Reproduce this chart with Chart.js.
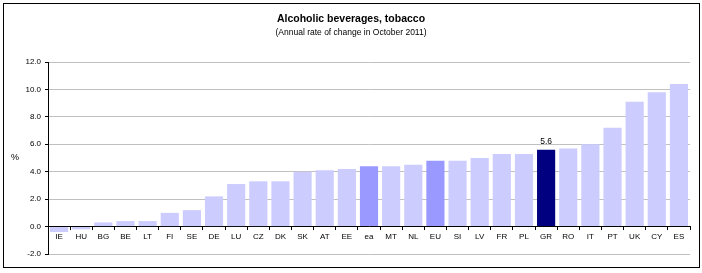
<!DOCTYPE html>
<html>
<head>
<meta charset="utf-8">
<script src="https://cdn.jsdelivr.net/npm/chart.js@4"></script>
<style>
  html, body { margin: 0; padding: 0; background: #fff; }
  #wrap { width: 702px; height: 273px; }
</style>
</head>
<body>
<div id="wrap"><canvas id="myChart" width="702" height="273"></canvas></div>
<script>
const countries = ['IE', 'HU', 'BG', 'BE', 'LT', 'FI', 'SE', 'DE', 'LU', 'CZ', 'DK', 'SK', 'AT', 'EE', 'ea',
  'MT', 'NL', 'EU', 'SI', 'LV', 'FR', 'PL', 'GR', 'RO', 'IT', 'PT', 'UK', 'CY', 'ES'];
const rates = [-0.4, -0.2, 0.3, 0.4, 0.4, 1.0, 1.2, 2.2, 3.1, 3.3, 3.3, 4.0, 4.1, 4.2, 4.4,
  4.4, 4.5, 4.8, 4.8, 5.0, 5.3, 5.3, 5.6, 5.7, 6.0, 7.2, 9.1, 9.8, 10.4];
const yTicks = [-2, 0, 2, 4, 6, 8, 10, 12];

const barColors = countries.map(c => {
  if (c === 'GR') return '#000080';
  if (c === 'ea' || c === 'EU') return '#9999ff';
  return '#ccccff';
});

// frame, titles, "%" and the GR value label
const extras = {
  id: 'extras',
  beforeDraw(chart) {
    const c = chart.ctx;
    c.save();
    c.fillStyle = '#fff';
    c.fillRect(0, 0, chart.width, chart.height);
    c.strokeStyle = '#000';
    c.lineWidth = 1;
    c.strokeRect(3.5, 3.5, 696, 264);
    c.restore();
  },
  afterDraw(chart) {
    const c = chart.ctx;
    c.save();
    c.fillStyle = '#000';
    c.textAlign = 'center';
    c.textBaseline = 'middle';
    c.font = 'bold 10.5px "Liberation Sans", Arial';
    c.fillText('Alcoholic beverages, tobacco', 351, 19);
    c.font = '8.5px "Liberation Sans", Arial';
    c.fillText('(Annual rate of change in October 2011)', 351, 33);
    c.font = '9px "Liberation Sans", Arial';
    c.fillText('%', 15, 158);
    const i = countries.indexOf('GR');
    const bar = chart.getDatasetMeta(0).data[i];
    c.font = '8.5px "Liberation Sans", Arial';
    c.fillText(rates[i].toFixed(1), bar.x, bar.y - 8);
    c.restore();
  }
};

new Chart(document.getElementById('myChart'), {
  type: 'bar',
  data: {
    labels: countries,
    datasets: [{
      data: rates,
      backgroundColor: barColors,
      barPercentage: 0.82,
      categoryPercentage: 1.0
    }]
  },
  options: {
    responsive: false,
    animation: false,
    layout: { padding: { left: 8, right: 12, top: 62, bottom: 19 } },
    plugins: { legend: { display: false }, tooltip: { enabled: false } },
    scales: {
      x: {
        position: { y: 0 },
        offset: true,
        grid: { offset: true, drawOnChartArea: false, tickLength: 3, color: '#000' },
        border: { color: '#000', width: 1 },
        ticks: { color: '#000', font: { size: 8, family: '"Liberation Sans", Arial' }, padding: 2, autoSkip: false, maxRotation: 0 }
      },
      y: {
        min: -2,
        max: 12,
        afterBuildTicks: s => { s.ticks = yTicks.map(v => ({ value: v })); },
        afterFit: s => { s.width = 40; },
        grid: { color: '#c0c0c0', tickLength: 3, tickColor: '#000' },
        border: { color: '#000', width: 1 },
        ticks: { color: '#000', font: { size: 8, family: '"Liberation Sans", Arial' }, padding: 4, callback: v => v.toFixed(1) }
      }
    }
  },
  plugins: [extras]
});
</script>
</body>
</html>
